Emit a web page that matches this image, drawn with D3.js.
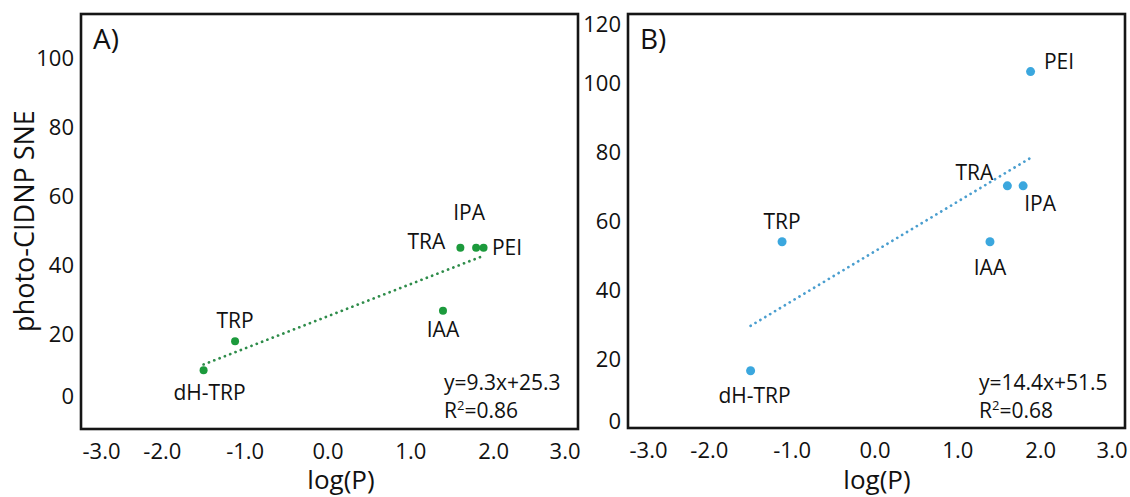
<!DOCTYPE html>
<html>
<head>
<meta charset="utf-8">
<script src="https://cdn.jsdelivr.net/npm/d3@7"></script>
<style>
  html, body { margin: 0; padding: 0; background: #fff; }
  svg { display: block; font-family: "Open Sans", "Noto Sans", sans-serif; }
</style>
</head>
<body>
<svg id="chart" width="1130" height="497"></svg>
<script>
// ---------- data ----------
const compounds = ["dH-TRP", "TRP", "IAA", "TRA", "IPA", "PEI"];
const logP = [-1.52, -1.14, 1.37, 1.58, 1.77, 1.86];
const sneA = [9.5, 17.9, 26.7, 44.9, 44.9, 44.9];
const sneB = [16.6, 54.0, 54.0, 70.2, 70.2, 103.3];
const xTicks = [-3, -2, -1, 0, 1, 2, 3];
const yTicksA = [0, 20, 40, 60, 80, 100];
const yTicksB = [0, 20, 40, 60, 80, 100, 120];
const fitA = { slope: 9.3, intercept: 25.3, r2: "0.86" };
const fitB = { slope: 14.4, intercept: 51.5, r2: "0.68" };

// ---------- layout / style (not data) ----------
const svg = d3.select("#chart");
const panels = [
  { id: "A)", values: sneA, fit: fitA, yTicks: yTicksA, yDomain: [-7.5, 112.5],
    box: { l: 81, r: 578, t: 14, b: 429 }, dot: "#1c9a3c", line: "#2e8c4a", r: 4,
    xLabelX: 341,
    labelOff: { "dH-TRP": [6, 30], "TRP": [0, -13], "IAA": [0, 26], "TRA": [-34, 1.5], "IPA": [-7, -28], "PEI": [23.5, 7] } },
  { id: "B)", values: sneB, fit: fitB, yTicks: yTicksB, yDomain: [0, 120],
    box: { l: 628, r: 1125, t: 14, b: 428 }, dot: "#3ba7de", line: "#4a9ecf", r: 4.5,
    xLabelX: 877,
    labelOff: { "dH-TRP": [4, 32], "TRP": [0, -13], "IAA": [0, 33], "TRA": [-33, -6], "IPA": [17, 25], "PEI": [28.5, -3] } }
];

const fs = 21;
const tfs = 22;

panels.forEach((p, pi) => {
  const b = p.box;
  const x = d3.scaleLinear().domain([xTicks[0], xTicks[xTicks.length - 1]]).range([b.l, b.r]);
  const y = d3.scaleLinear().domain(p.yDomain).range([b.b, b.t]);
  const g = svg.append("g");

  // x tick labels (no tick marks), end labels kept inside the frame
  const xAxis = d3.axisBottom(x).tickValues(xTicks).tickSize(0).tickFormat(d3.format(".1f"));
  const xg = g.append("g").attr("transform", `translate(0,${b.b})`).call(xAxis);
  xg.select(".domain").remove();
  xg.selectAll("text")
    .attr("font-size", tfs).attr("font-family", "Open Sans").attr("fill", "#111")
    .attr("y", 30).attr("dy", 0)
    .text(d => d3.format(".1f")(d).replace("−", "-"))
    .attr("text-anchor", (d, i) => i === 0 ? "start" : (i === xTicks.length - 1 ? "end" : "middle"))
    .attr("dx", (d, i) => i === 0 ? 1 : (i === xTicks.length - 1 ? 2 : -2));

  // y tick labels
  const yAxis = d3.axisLeft(y).tickValues(p.yTicks).tickSize(0).tickFormat(d3.format("d"));
  const yg = g.append("g").attr("transform", `translate(${b.l},0)`).call(yAxis);
  yg.select(".domain").remove();
  const ymax = p.yDomain[1];
  yg.selectAll("text")
    .attr("font-size", tfs).attr("font-family", "Open Sans").attr("fill", "#111")
    .attr("x", -7).attr("dy", d => d === 0 ? "0em" : (d === ymax ? "0.78em" : "0.36em"));

  // frame
  g.append("rect").attr("x", b.l).attr("y", b.t).attr("width", b.r - b.l).attr("height", b.b - b.t)
    .attr("fill", "none").attr("stroke", "#151515").attr("stroke-width", 2.6);

  // panel letter
  g.append("text").attr("x", b.l + 12).attr("y", b.t + 35).attr("font-size", 28)
    .attr("fill", "#111").text(p.id);

  // trend line (from fit equation across data range)
  const xmin = d3.min(logP), xmax = d3.max(logP);
  g.append("line")
    .attr("x1", x(xmin)).attr("y1", y(p.fit.slope * xmin + p.fit.intercept))
    .attr("x2", x(xmax)).attr("y2", y(p.fit.slope * xmax + p.fit.intercept))
    .attr("stroke", p.line).attr("stroke-width", 2.7)
    .attr("stroke-dasharray", "0.1 5.6").attr("stroke-linecap", "round");

  // points
  const pts = compounds.map((c, i) => ({ c, x: logP[i], y: p.values[i] }));
  g.selectAll("circle.pt").data(pts).join("circle").attr("class", "pt")
    .attr("cx", d => x(d.x)).attr("cy", d => y(d.y)).attr("r", p.r).attr("fill", p.dot);

  // point labels
  g.selectAll("text.lab").data(pts).join("text").attr("class", "lab")
    .attr("x", d => x(d.x) + p.labelOff[d.c][0])
    .attr("y", d => y(d.y) + p.labelOff[d.c][1])
    .attr("text-anchor", "middle").attr("font-size", fs).attr("fill", "#111")
    .text(d => d.c);

  // equation
  const ex = pi === 0 ? 444 : 979;
  g.append("text").attr("x", ex).attr("y", 390).attr("font-size", 21).attr("fill", "#111")
    .text(`y=${p.fit.slope}x+${p.fit.intercept}`);
  const r2 = g.append("text").attr("x", ex).attr("y", 418).attr("font-size", 21).attr("fill", "#111");
  r2.append("tspan").text("R");
  r2.append("tspan").attr("font-size", 13).attr("dy", -8).text("2");
  r2.append("tspan").attr("dy", 8).text("=" + p.fit.r2);

  // x axis title
  g.append("text").attr("x", p.xLabelX).attr("y", 489).attr("text-anchor", "middle")
    .attr("font-size", 26).attr("fill", "#111").text("log(P)");
});

// y axis title (left panel)
svg.append("text")
  .attr("transform", "translate(34,221) rotate(-90)")
  .attr("text-anchor", "middle").attr("font-size", 27).attr("fill", "#111")
  .text("photo-CIDNP SNE");
</script>
</body>
</html>
